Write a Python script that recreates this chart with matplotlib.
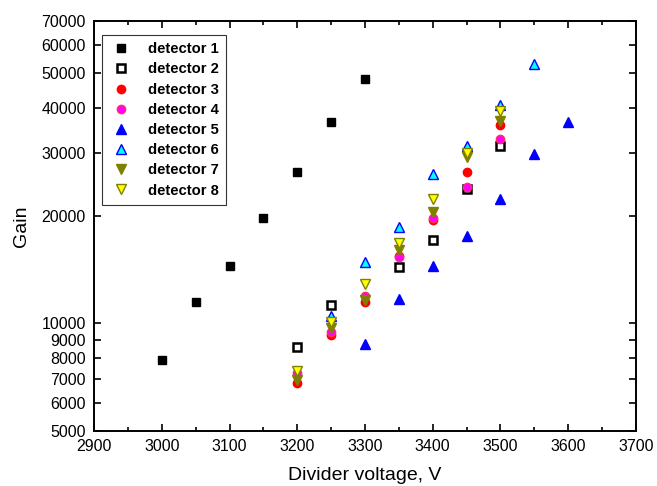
import matplotlib.pyplot as plt
from matplotlib.ticker import FixedLocator, MultipleLocator, NullLocator, FixedFormatter

plt.rcParams['font.family'] = ['Liberation Sans', 'DejaVu Sans']

# Gain vs divider voltage for each detector
v1 = [3000, 3050, 3100, 3150, 3200, 3250, 3300]
g1 = [7900, 11500, 14450, 19700, 26500, 36550, 48200]

v2 = [3200, 3250, 3350, 3400, 3450, 3500]
g2 = [8600, 11260, 14410, 17100, 23740, 31370]

v3 = [3200, 3250, 3300, 3350, 3400, 3450, 3500]
g3 = [6800, 9300, 11480, 15400, 19440, 26530, 35790]

v4 = [3200, 3250, 3300, 3350, 3400, 3450, 3500]
g4 = [7250, 9440, 11920, 15340, 19650, 24000, 32790]

v5 = [3300, 3350, 3400, 3450, 3500, 3550, 3600]
g5 = [8760, 11700, 14450, 17550, 22270, 29660, 36500]

v6 = [3250, 3300, 3350, 3400, 3450, 3500, 3550]
g6 = [10500, 14880, 18530, 26160, 31370, 40760, 53100]

v7 = [3200, 3250, 3300, 3350, 3400, 3450, 3500]
g7 = [6960, 9730, 11650, 15990, 20530, 29120, 36700]

v8 = [3200, 3250, 3300, 3350, 3400, 3450, 3500]
g8 = [7370, 10100, 12860, 16820, 22320, 29950, 39130]

y_ticks = [5000, 6000, 7000, 8000, 9000, 10000,
           20000, 30000, 40000, 50000, 60000, 70000]

fig = plt.figure(figsize=(6.57, 4.86), dpi=100)
ax = fig.add_axes([0.1431, 0.1132, 0.8249, 0.8436])

sq = 5.2
ci = 6.0
tr = 6.6
ax.plot(v1, g1, 's', ms=sq, mfc='black', mec='black', label='detector 1')
ax.plot(v2, g2, 's', ms=sq, mfc='white', mec='black', mew=1.8, label='detector 2')
ax.plot(v3, g3, 'o', ms=ci, mfc='red', mec='red', label='detector 3')
ax.plot(v4, g4, 'o', ms=ci, mfc='magenta', mec='#ff3060', label='detector 4')
ax.plot(v5, g5, '^', ms=tr, mfc='blue', mec='blue', label='detector 5')
ax.plot(v6, g6, '^', ms=tr, mfc='cyan', mec='blue', mew=1.0, label='detector 6')
ax.plot(v7, g7, 'v', ms=tr, mfc='#808000', mec='#808000', label='detector 7')
ax.plot(v8, g8, 'v', ms=tr, mfc='yellow', mec='#808000', mew=1.0, label='detector 8')

ax.set_yscale('log')
ax.set_xlim(2900, 3700)
ax.set_ylim(5000, 70000)

ax.xaxis.set_major_locator(MultipleLocator(100))
ax.xaxis.set_minor_locator(MultipleLocator(50))
ax.yaxis.set_major_locator(FixedLocator(y_ticks))
ax.yaxis.set_major_formatter(FixedFormatter([str(t) for t in y_ticks]))
ax.yaxis.set_minor_locator(NullLocator())

ax.tick_params(which='both', direction='in', top=True, right=True,
               labelsize=11.5, width=1.2, color='black')
ax.tick_params(which='major', length=5)
ax.tick_params(which='minor', length=3)
ax.tick_params(axis='x', pad=6)
ax.tick_params(axis='y', pad=6)
for s in ax.spines.values():
    s.set_linewidth(1.4)

ax.set_xlabel('Divider voltage, V', fontsize=14, labelpad=9)
ax.set_ylabel('Gain', fontsize=14, labelpad=8)

leg = ax.legend(loc='upper left', bbox_to_anchor=(0.0153, 0.966), borderaxespad=0,
                numpoints=1, fancybox=False, edgecolor='black',
                prop={'weight': 'bold', 'size': 10.6},
                labelspacing=0.42, handletextpad=1.1, borderpad=0.5,
                handlelength=1.5)
leg.get_frame().set_linewidth(0.8)

fig.savefig('out.png', dpi=100)
